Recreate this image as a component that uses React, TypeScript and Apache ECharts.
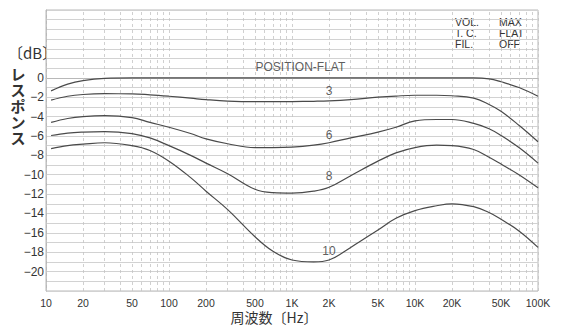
import React, { useEffect, useRef } from "react";
import * as echarts from "echarts";

// Frequencies (Hz) at which the curves were read
const freqHz = [11, 15, 20, 30, 50, 70, 100, 150, 200, 300, 500, 700, 1000, 1500, 2000, 3000, 5000, 7000, 10000, 15000, 20000, 30000, 40000, 50000, 70000, 100000];

// Response (dB) per position
const flatDb = [-1.35, -0.65, -0.28, -0.05, 0, 0, 0, 0, 0, 0, 0, 0, 0, 0, 0, 0, 0, 0, 0, 0, 0, 0, -0.1, -0.4, -1.0, -1.9];
const pos3Db = [-2.3, -1.9, -1.72, -1.64, -1.65, -1.75, -1.9, -2.1, -2.25, -2.4, -2.46, -2.46, -2.45, -2.42, -2.38, -2.25, -2.0, -1.88, -1.8, -1.8, -1.85, -2.1, -2.75, -3.45, -4.9, -6.6];
const pos6Db = [-4.6, -4.2, -4.0, -3.9, -4.1, -4.6, -5.1, -5.75, -6.3, -6.8, -7.2, -7.2, -7.15, -6.95, -6.7, -6.2, -5.6, -5.1, -4.45, -4.3, -4.3, -4.7, -5.25, -5.95, -7.2, -8.8];
const pos8Db = [-5.95, -5.7, -5.6, -5.55, -5.75, -6.2, -7.0, -8.0, -8.8, -9.9, -11.5, -11.85, -11.9, -11.7, -11.3, -10.1, -8.6, -7.75, -7.2, -6.95, -7.0, -7.4, -8.2, -8.9, -10.0, -11.35];
const pos10Db = [-7.3, -7.0, -6.85, -6.7, -7.0, -7.5, -8.6, -10.3, -11.7, -13.6, -16.4, -17.9, -18.8, -19.0, -18.8, -17.5, -15.7, -14.5, -13.7, -13.2, -13.0, -13.3, -13.9, -14.6, -15.8, -17.5];

const curves = [flatDb, pos3Db, pos6Db, pos8Db, pos10Db];

// Curve labels
const labelText = ["POSITION-FLAT", "3", "6", "8", "10"];
const labelHz = [1170, 2000, 2000, 2000, 2000];
const labelDb = [1.1, -1.4, -5.9, -10.1, -17.9];

// X tick labels
const tickLabelHz = [10, 20, 50, 100, 200, 500, 1000, 2000, 5000, 10000, 20000, 50000, 100000];

// Vertical log grid lines (1..9 per decade)
const gridMultipliers = [1, 2, 3, 4, 5, 6, 7, 8, 9];
const gridDecades = [10, 100, 1000, 10000];
const gridHz: number[] = [];
gridDecades.forEach((d) => gridMultipliers.forEach((m) => gridHz.push(d * m)));
gridHz.push(100000);

// Settings block (top right)
const settingNames = ["VOL.", "T. C.", "FIL."];
const settingValues = ["MAX", "FLAT", "OFF"];

// Axis titles
const yTitleChars = ["レ", "ス", "ポ", "ン", "ス"];
const yUnit = "〔dB〕";
const xTitle = "周波数〔Hz〕";

const FONT = "'Liberation Sans', 'DejaVu Sans', sans-serif";
const CJK = "'Noto Sans CJK JP', 'Noto Sans CJK SC', sans-serif";

function fmtHz(v: number): string {
  const r = Math.round(v);
  return r >= 1000 ? `${Math.round(r / 1000)}K` : String(r);
}

export default function App() {
  const ref = useRef<HTMLDivElement>(null);

  useEffect(() => {
    if (!ref.current) return;
    const chart = echarts.init(ref.current, undefined, { renderer: "svg" });

    const curveSeries = curves.map((vals, i) => ({
      type: "line",
      name: labelText[i],
      data: freqHz.map((f, j) => [f, vals[j]]),
      showSymbol: false,
      smooth: 0.4,
      lineStyle: { color: "#4a4a4a", width: 1.2 },
      z: 5,
    }));

    const settingGraphics: any[] = [];
    settingNames.forEach((n, i) => {
      settingGraphics.push({
        type: "text",
        x: 455,
        y: 22 + i * 11,
        style: { text: n, font: `10.5px ${FONT}`, fill: "#333", verticalAlign: "middle", lineHeight: 11 },
      });
      settingGraphics.push({
        type: "text",
        x: 499,
        y: 22 + i * 11,
        style: { text: settingValues[i], font: `10.5px ${FONT}`, fill: "#333", verticalAlign: "middle", lineHeight: 11 },
      });
    });

    const yTitleGraphics = yTitleChars.map((c, i) => ({
      type: "text",
      x: 18,
      y: 73 + i * 16.2,
      style: {
        text: c,
        font: `bold 15px ${CJK}`,
        fill: "#333",
        align: "center",
        verticalAlign: "middle",
        lineHeight: 16,
      },
    }));

    chart.setOption({
      animation: false,
      backgroundColor: "#ffffff",
      grid: {
        left: 46,
        right: 29,
        top: 10,
        bottom: 36,
        show: true,
        borderColor: "#b8b8b8",
        borderWidth: 1,
      },
      xAxis: {
        type: "log",
        logBase: 10,
        min: 10,
        max: 100000,
        axisLine: { show: true, lineStyle: { color: "#b8b8b8" } },
        axisTick: { show: false },
        splitLine: { show: false },
        axisLabel: {
          customValues: tickLabelHz,
          formatter: (v: number) => fmtHz(v),
          margin: 6,
          fontSize: 10.5,
          fontFamily: FONT,
          color: "#333",
        },
      },
      yAxis: {
        type: "value",
        min: -22,
        max: 7,
        interval: 1,
        axisLine: { show: true, lineStyle: { color: "#b8b8b8" } },
        axisTick: { show: false },
        splitLine: { show: true, lineStyle: { color: "#d2d2d2", width: 1 } },
        axisLabel: {
          margin: 2,
          fontSize: 12,
          fontFamily: FONT,
          color: "#333",
          padding: [5, 0, 0, 0],
          formatter: (v: number) => {
            if (v > 0 || v < -20 || v % 2 !== 0) return "";
            return v === 0 ? "0" : `\u2212${-v}`;
          },
        },
      },
      series: [
        {
          type: "line",
          data: [],
          silent: true,
          markLine: {
            silent: true,
            symbol: "none",
            label: { show: false },
            lineStyle: { color: "#c4c4c4", width: 0.8, type: [3, 3] },
            data: gridHz.map((h) => ({ xAxis: h })),
          },
          z: 1,
        },
        ...curveSeries,
        {
          type: "scatter",
          symbolSize: 0,
          silent: true,
          data: labelHz.map((f, i) => ({ value: [f, labelDb[i]], name: labelText[i] })),
          label: {
            show: true,
            position: "inside",
            formatter: "{b}",
            fontSize: 12,
            fontFamily: FONT,
            color: "#333",
          },
          z: 6,
        },
      ],
      graphic: [
        {
          type: "text",
          x: 8,
          y: 52,
          style: { text: yUnit, font: `15px ${CJK}`, fill: "#333", verticalAlign: "middle", lineHeight: 16 },
        },
        ...yTitleGraphics,
        {
          type: "text",
          x: 274,
          y: 317,
          style: {
            text: xTitle,
            font: `14px ${CJK}`,
            fill: "#333",
            align: "center",
            verticalAlign: "middle",
            lineHeight: 15,
          },
        },
        ...settingGraphics,
      ],
    });

    return () => chart.dispose();
  }, []);

  return <div ref={ref} style={{ position: "absolute", left: 0, top: 0, width: 567, height: 327 }} />;
}
